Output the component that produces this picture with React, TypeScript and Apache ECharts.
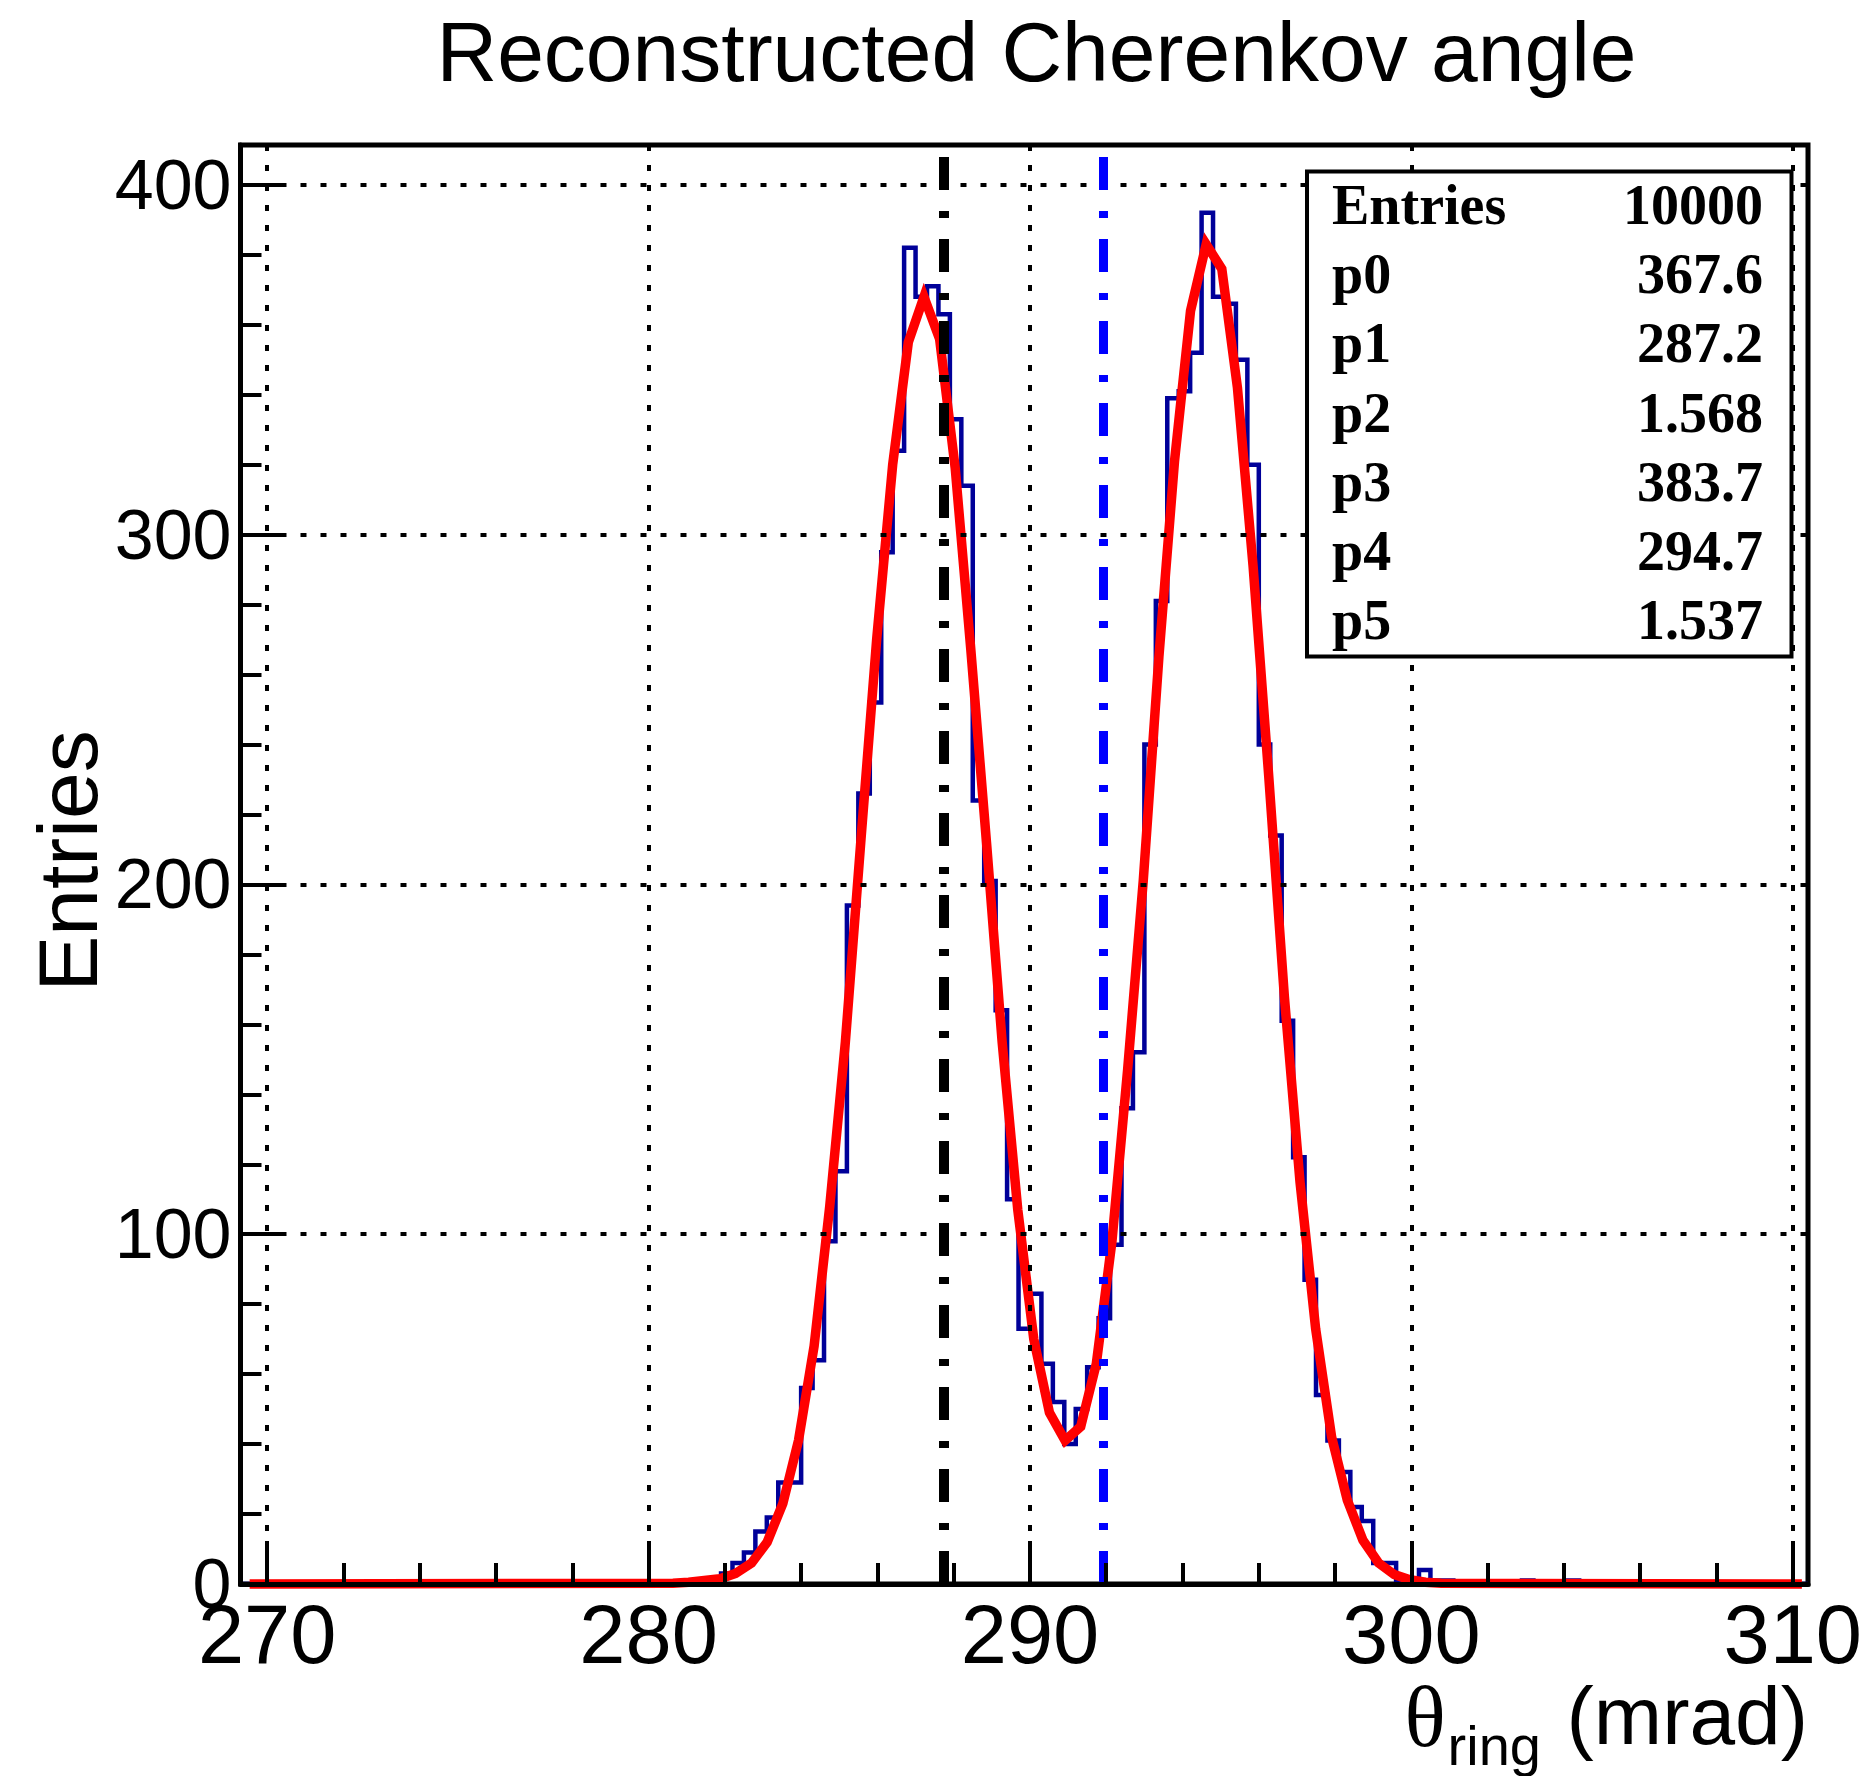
import React, { useEffect, useRef } from "react";
import * as echarts from "echarts";

// ---------- texts ----------
const TITLE = "Reconstructed Cherenkov angle";
const X_TITLE_SYMBOL = "θ";
const X_TITLE_SUB = "ring";
const X_TITLE_UNIT = "(mrad)";
const Y_TITLE = "Entries";

// ---------- axes ----------
const X_MIN = 269.3;
const X_MAX = 310.4;
const Y_MIN = 0;
const Y_MAX = 411.4;
const X_TICKS = [270, 280, 290, 300, 310];
const X_MINOR_TICKS = [272, 274, 276, 278, 282, 284, 286, 288, 292, 294, 296, 298, 302, 304, 306, 308];
const Y_TICKS = [0, 100, 200, 300, 400];
const Y_MINOR_TICKS = [20, 40, 60, 80, 120, 140, 160, 180, 220, 240, 260, 280, 320, 340, 360, 380];

// ---------- histogram (bin width 0.3 mrad, first listed bin starts at 281.9) ----------
const BIN_WIDTH = 0.3;
const HIST_START = 281.9;
const COUNTS = [
  3, 6, 9, 15, 19, 29, 29, 56, 64, 98,
  118, 194, 226, 252, 295, 324, 382, 368, 371, 363,
  333, 314, 224, 201, 164, 110, 73, 83, 63, 52,
  40, 50, 62, 76, 97, 136, 152, 240, 281, 339,
  341, 352, 392, 368, 366, 350, 320, 240, 214, 161,
  122, 87, 54, 41, 32, 22, 18, 6, 6, 1,
  1, 4, 1, 1, 0, 0, 0, 0, 0, 0,
  1, 0, 0, 0, 1,
];

// ---------- fitted curve (polyline vertices) ----------
const FIT_X = [
  269.54, 280.64, 281.05, 281.46, 281.87, 282.28, 282.7, 283.11, 283.52, 283.93,
  284.34, 284.75, 285.16, 285.57, 285.98, 286.4, 286.81, 287.22, 287.63, 288.04,
  288.45, 288.86, 289.27, 289.68, 290.1, 290.51, 290.92, 291.33, 291.74, 292.15,
  292.56, 292.97, 293.38, 293.79, 294.21, 294.62, 295.03, 295.44, 295.85, 296.26,
  296.67, 297.08, 297.49, 297.91, 298.32, 298.73, 299.14, 299.55, 299.96, 300.37,
  300.78, 310.24,
];
const FIT_Y = [
  0, 0.2, 0.5, 1, 1.5, 3, 6, 12, 23, 41,
  68, 108, 155, 213, 270, 320, 355, 368, 356, 319,
  267, 212, 155, 107, 70, 49, 41, 45, 63, 98,
  147, 201, 265, 321, 364, 383, 376, 342, 291, 231,
  168, 115, 73, 42, 24, 12.5, 6, 2.7, 1.2, 0.5,
  0.2, 0,
];

// ---------- reference lines ----------
const REF_LINE_X = [287.74, 291.93];

// ---------- stats box ----------
const STAT_LABELS = ["Entries", "p0", "p1", "p2", "p3", "p4", "p5"];
const STAT_VALUES = ["10000", "367.6", "287.2", "1.568", "383.7", "294.7", "1.537"];

const SANS = "'Liberation Sans', Arial, Helvetica, sans-serif";
const SERIF = "'Liberation Serif', 'Times New Roman', serif";

function buildOption() {
  const histData: number[][] = [[X_MIN, 0]];
  COUNTS.forEach((c, i) => histData.push([HIST_START + i * BIN_WIDTH, c]));
  histData.push([HIST_START + COUNTS.length * BIN_WIDTH, 0]);
  histData.push([X_MAX, 0]);

  const fitData = FIT_X.map((x, i) => [x, FIT_Y[i]]);

  const dotted = { color: "#000", width: 4, type: [6, 14] as number[] };

  const statsElements: any[] = [
    {
      type: "rect",
      z: 100,
      shape: { x: 1307, y: 171.5, width: 484.5, height: 485 },
      style: { fill: "#ffffff", stroke: "#000000", lineWidth: 4 },
    },
  ];
  STAT_LABELS.forEach((lab, i) => {
    const cy = 205 + i * 69.2;
    statsElements.push({
      type: "text",
      z: 101,
      x: 1332,
      y: cy,
      style: {
        text: lab,
        fontSize: 56,
        fontWeight: "bold",
        fontFamily: SERIF,
        fill: "#000",
        align: "left",
        verticalAlign: "middle",
        textAlign: "left",
        textVerticalAlign: "middle",
      },
    });
    statsElements.push({
      type: "text",
      z: 101,
      x: 1763,
      y: cy,
      style: {
        text: STAT_VALUES[i],
        fontSize: 56,
        fontWeight: "bold",
        fontFamily: SERIF,
        fill: "#000",
        align: "right",
        verticalAlign: "middle",
        textAlign: "right",
        textVerticalAlign: "middle",
      },
    });
  });

  const textEl = (text: string, x: number, y: number, size: number, align: string, family = SANS, extra: any = {}) => ({
    type: "text",
    z: 101,
    x,
    y,
    ...extra,
    style: {
      text,
      fontSize: size,
      fontFamily: family,
      fill: "#000",
      align,
      verticalAlign: "middle",
      textAlign: align,
      textVerticalAlign: "middle",
    },
  });

  return {
    animation: false,
    backgroundColor: "#ffffff",
    grid: {
      left: 240.5,
      top: 145,
      right: 67,
      bottom: 192,
      show: true,
      borderColor: "#000",
      borderWidth: 5,
      backgroundColor: "transparent",
      containLabel: false,
      outerBoundsMode: "none",
    },
    xAxis: [
      {
        type: "value",
        min: X_MIN,
        max: X_MAX,
        position: "bottom",
        z: 5,
        axisLine: { show: true, onZero: false, lineStyle: { color: "#000", width: 5 } },
        axisTick: { show: true, inside: true, length: 43, customValues: X_TICKS, lineStyle: { color: "#000", width: 4 } },
        axisLabel: { show: true, customValues: X_TICKS, margin: 9, fontSize: 83, fontFamily: SANS, color: "#000" },
        splitLine: { show: true, lineStyle: dotted },
        minorTick: { show: false },
      },
      {
        type: "value",
        min: X_MIN,
        max: X_MAX,
        position: "bottom",
        z: 5,
        axisLine: { show: false },
        axisTick: { show: true, inside: true, length: 21, customValues: X_MINOR_TICKS, lineStyle: { color: "#000", width: 4 } },
        axisLabel: { show: false },
        splitLine: { show: false },
      },
    ],
    yAxis: [
      {
        type: "value",
        min: Y_MIN,
        max: Y_MAX,
        position: "left",
        z: 5,
        axisLine: { show: true, onZero: false, lineStyle: { color: "#000", width: 5 } },
        axisTick: { show: true, inside: true, length: 43, customValues: Y_TICKS, lineStyle: { color: "#000", width: 4 } },
        axisLabel: { show: true, customValues: Y_TICKS, margin: 9, fontSize: 70, fontFamily: SANS, color: "#000" },
        splitLine: { show: true, lineStyle: dotted },
        minorTick: { show: false },
      },
      {
        type: "value",
        min: Y_MIN,
        max: Y_MAX,
        position: "left",
        z: 5,
        axisLine: { show: false },
        axisTick: { show: true, inside: true, length: 21, customValues: Y_MINOR_TICKS, lineStyle: { color: "#000", width: 4 } },
        axisLabel: { show: false },
        splitLine: { show: false },
      },
    ],
    series: [
      {
        type: "line",
        name: "hist",
        step: "end",
        data: histData,
        symbol: "none",
        silent: true,
        z: 2,
        lineStyle: { color: "#000099", width: 4.5, join: "miter" },
      },
      {
        type: "line",
        name: "fit",
        data: fitData,
        symbol: "none",
        silent: true,
        clip: false,
        z: 3,
        lineStyle: { color: "#ff0000", width: 9.5, join: "miter" },
      },
      {
        type: "line",
        name: "ref1",
        data: [],
        symbol: "none",
        z: 4,
        markLine: {
          silent: true,
          symbol: ["none", "none"],
          label: { show: false },
          animation: false,
          lineStyle: { color: "#000000", width: 10, type: [33, 21, 7, 21], cap: "butt" },
          data: [{ xAxis: REF_LINE_X[0] }],
        },
      },
      {
        type: "line",
        name: "ref2",
        data: [],
        symbol: "none",
        z: 4,
        markLine: {
          silent: true,
          symbol: ["none", "none"],
          label: { show: false },
          animation: false,
          lineStyle: { color: "#0000ff", width: 9, type: [33, 21, 7, 21], cap: "butt" },
          data: [{ xAxis: REF_LINE_X[1] }],
        },
      },
    ],
    graphic: {
      elements: [
        textEl(TITLE, 1036.5, 52, 84, "center"),
        textEl(Y_TITLE, 68, 861, 84, "center", SANS, { rotation: Math.PI / 2 }),
        textEl(X_TITLE_UNIT, 1808, 1715, 82, "right"),
        textEl(X_TITLE_SUB, 1541, 1745, 56, "right"),
        textEl(X_TITLE_SYMBOL, 1425, 1717, 86, "center", SERIF),
        ...statsElements,
      ],
    },
  };
}

export default function App() {
  const ref = useRef<HTMLDivElement>(null);
  useEffect(() => {
    document.body.style.margin = "0";
    document.body.style.overflow = "hidden";
    if (!ref.current) return;
    const chart = echarts.init(ref.current, null, { renderer: "svg" });
    chart.setOption(buildOption() as any);
    return () => chart.dispose();
  }, []);
  return (
    <div
      ref={ref}
      style={{ position: "absolute", left: 0, top: 0, width: "1875px", height: "1776px", background: "#fff" }}
    />
  );
}
